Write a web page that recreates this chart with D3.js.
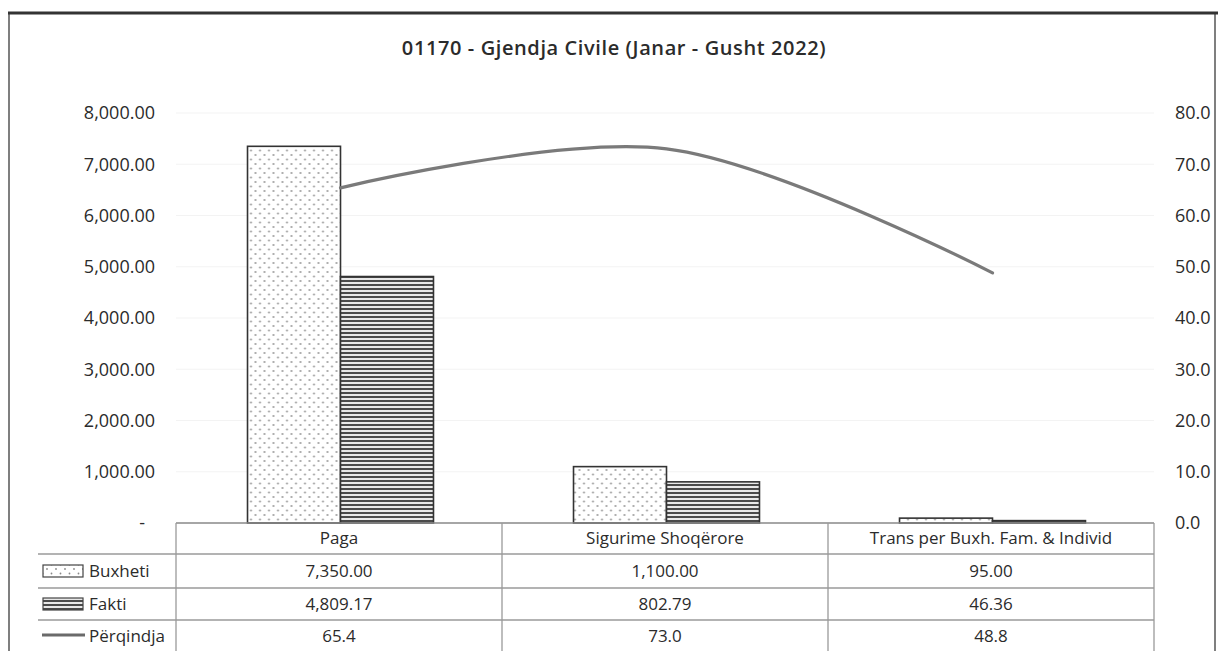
<!DOCTYPE html>
<html>
<head>
<meta charset="utf-8">
<script src="https://cdn.jsdelivr.net/npm/d3@7"></script>
<style>
  html, body { margin: 0; padding: 0; background: #fff; }
  svg { display: block; font-family: "Open Sans", "Noto Sans", sans-serif; }
</style>
</head>
<body>
<svg id="chart" width="1218" height="651"></svg>
<script>
// Budget execution, 01170 - Gjendja Civile, Jan-Aug 2022
const title = "01170 - Gjendja Civile (Janar - Gusht 2022)";
const categories = ["Paga", "Sigurime Shoqërore", "Trans per Buxh. Fam. & Individ"];
const seriesNames = ["Buxheti", "Fakti", "Përqindja"];
const buxheti = [7350.00, 1100.00, 95.00];
const fakti = [4809.17, 802.79, 46.36];
const perqindja = [65.4, 73.0, 48.8];
const leftTicks = [0, 1000, 2000, 3000, 4000, 5000, 6000, 7000, 8000];
const rightTicks = [0, 10, 20, 30, 40, 50, 60, 70, 80];

const svg = d3.select("#chart");
const W = 1218, H = 651;
const plot = { left: 176, right: 1154, top: 113, bottom: 523 };
const rows = { header: 523, r1: 554, r2: 588, r3: 620, end: 652 };
const ink = "#2b2b2b";

// patterns for the two bar series
const defs = svg.append("defs");
const dots = defs.append("pattern").attr("id", "dots")
  .attr("patternUnits", "userSpaceOnUse").attr("width", 9).attr("height", 9);
dots.append("rect").attr("width", 9).attr("height", 9).attr("fill", "#fff");
dots.append("circle").attr("cx", 2).attr("cy", 2).attr("r", 0.9).attr("fill", "#8a8a8a");
dots.append("circle").attr("cx", 6.5).attr("cy", 6.5).attr("r", 0.9).attr("fill", "#8a8a8a");

const stripes = defs.append("pattern").attr("id", "stripes")
  .attr("patternUnits", "userSpaceOnUse").attr("width", 8).attr("height", 4);
stripes.append("rect").attr("width", 8).attr("height", 4).attr("fill", "#e8e8e8");
stripes.append("rect").attr("y", 0).attr("width", 8).attr("height", 2).attr("fill", "#4a4a4a");

// outer frame
svg.append("rect").attr("x", 9).attr("y", 13).attr("width", 1206).attr("height", 650)
  .attr("fill", "none").attr("stroke", "#555").attr("stroke-width", 1.5);
svg.append("line").attr("x1", 8).attr("x2", W).attr("y1", 13).attr("y2", 13)
  .attr("stroke", "#333").attr("stroke-width", 3);

// title
svg.append("text").attr("x", 614).attr("y", 55).attr("text-anchor", "middle")
  .attr("font-size", 20).attr("font-weight", 600).attr("letter-spacing", 0.6)
  .attr("fill", ink).text(title);

// scales
const x = d3.scaleBand().domain(categories).range([plot.left, plot.right]).paddingInner(0).paddingOuter(0);
const sub = d3.scaleBand().domain(["Buxheti", "Fakti"]).range([0, x.bandwidth()]).paddingInner(0).paddingOuter(0.753);
const y = d3.scaleLinear().domain([0, 8000]).range([plot.bottom, plot.top]);
const y2 = d3.scaleLinear().domain([0, 80]).range([plot.bottom, plot.top]);

// faint gridlines
svg.append("g").selectAll("line").data(leftTicks.filter(d => d > 0)).join("line")
  .attr("x1", plot.left).attr("x2", plot.right)
  .attr("y1", d => y(d)).attr("y2", d => y(d))
  .attr("stroke", "#f3f3f3").attr("stroke-width", 1);

// left axis
const fmtLeft = d => d === 0 ? "-" : d3.format(",.2f")(d);
const gl = svg.append("g").attr("transform", `translate(${plot.left},0)`)
  .call(d3.axisLeft(y).tickValues(leftTicks).tickFormat(fmtLeft).tickSize(0).tickPadding(21));
gl.select(".domain").remove();
gl.selectAll("text").attr("font-size", 18).attr("fill", ink)
  .attr("font-family", "'Open Sans', sans-serif")
  .attr("dx", d => d === 0 ? -10 : 0);

// right axis
const gr = svg.append("g").attr("transform", `translate(${plot.right},0)`)
  .call(d3.axisRight(y2).tickValues(rightTicks).tickFormat(d3.format(".1f")).tickSize(0).tickPadding(21));
gr.select(".domain").remove();
gr.selectAll("text").attr("font-size", 18).attr("fill", ink)
  .attr("font-family", "'Open Sans', sans-serif");

// bars
const barData = categories.flatMap((c, i) => [
  { cat: c, key: "Buxheti", value: buxheti[i] },
  { cat: c, key: "Fakti", value: fakti[i] }
]);
svg.append("g").attr("transform", "translate(1.5,0)").selectAll("rect").data(barData).join("rect")
  .attr("x", d => x(d.cat) + sub(d.key))
  .attr("width", sub.bandwidth())
  .attr("y", d => y(d.value))
  .attr("height", d => y(0) - y(d.value))
  .attr("fill", d => d.key === "Buxheti" ? "url(#dots)" : "url(#stripes)")
  .attr("stroke", "#333").attr("stroke-width", 1.6);

// percentage line (smoothed)
const line = d3.line()
  .x((d, i) => x(categories[i]) + x.bandwidth() / 2 + 1.5)
  .y(d => y2(d))
  .curve(d3.curveCatmullRom.alpha(0.5));
svg.append("path").datum(perqindja).attr("d", line)
  .attr("fill", "none").attr("stroke", "#7a7a7a").attr("stroke-width", 3.2)
  .attr("stroke-linecap", "round");

// data table
const tbl = svg.append("g");
const lineColor = "#9a9a9a";
// horizontal rules
tbl.append("line").attr("x1", plot.left).attr("x2", plot.right)
  .attr("y1", rows.header).attr("y2", rows.header).attr("stroke", "#888").attr("stroke-width", 1.3);
[rows.r1, rows.r2, rows.r3].forEach(yy => {
  tbl.append("line").attr("x1", 38).attr("x2", plot.right)
    .attr("y1", yy).attr("y2", yy).attr("stroke", lineColor).attr("stroke-width", 1.3);
});
// vertical rules
const vx = [plot.left, ...categories.map(c => x(c) + x.bandwidth())];
tbl.selectAll("line.v").data(vx).join("line").attr("class", "v")
  .attr("x1", d => d).attr("x2", d => d)
  .attr("y1", rows.header).attr("y2", rows.end)
  .attr("stroke", lineColor).attr("stroke-width", 1.3);

// header row
tbl.selectAll("text.h").data(categories).join("text").attr("class", "h")
  .attr("x", d => x(d) + x.bandwidth() / 2).attr("y", rows.header + 21)
  .attr("text-anchor", "middle").attr("font-size", 17).attr("fill", ink).text(d => d);

const tableRows = [
  { name: seriesNames[0], values: buxheti, fmt: d3.format(",.2f"), top: rows.r1, bottom: rows.r2 },
  { name: seriesNames[1], values: fakti, fmt: d3.format(",.2f"), top: rows.r2, bottom: rows.r3 },
  { name: seriesNames[2], values: perqindja, fmt: d3.format(".1f"), top: rows.r3, bottom: rows.end }
];
tableRows.forEach((r, ri) => {
  const cy = (r.top + r.bottom) / 2;
  tbl.selectAll(`text.v${ri}`).data(r.values).join("text").attr("class", `v${ri}`)
    .attr("x", (d, i) => x(categories[i]) + x.bandwidth() / 2).attr("y", cy + 6)
    .attr("text-anchor", "middle").attr("font-size", 17).attr("fill", ink)
    .text(d => r.fmt(d));
  // legend key
  if (ri === 0) {
    tbl.append("rect").attr("x", 43).attr("y", cy - 6).attr("width", 40).attr("height", 12)
      .attr("fill", "url(#dots)").attr("stroke", "#444").attr("stroke-width", 1.2);
  } else if (ri === 1) {
    tbl.append("rect").attr("x", 43).attr("y", cy - 6).attr("width", 40).attr("height", 12)
      .attr("fill", "url(#stripes)").attr("stroke", "#444").attr("stroke-width", 1.2);
  } else {
    tbl.append("line").attr("x1", 42).attr("x2", 85).attr("y1", cy - 1).attr("y2", cy - 1)
      .attr("stroke", "#6a6a6a").attr("stroke-width", 3);
  }
  tbl.append("text").attr("x", 89).attr("y", cy + 6).attr("font-size", 17)
    .attr("fill", ink).text(r.name);
});
</script>
</body>
</html>
